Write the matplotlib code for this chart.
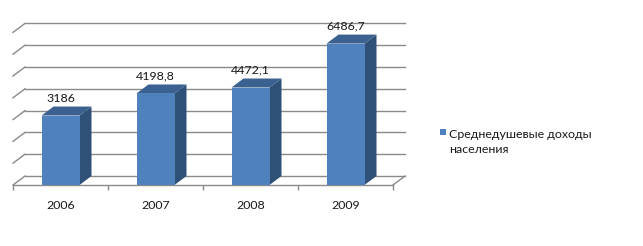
import matplotlib
matplotlib.use("Agg")
import matplotlib.pyplot as plt
from matplotlib.patches import Polygon, Rectangle
import numpy as np

plt.rcParams['font.family'] = ['Lato', 'DejaVu Sans']

categories = ['2006', '2007', '2008', '2009']
values = [3186, 4198.8, 4472.1, 6486.7]
value_labels = ['3186', '4198,8', '4472,1', '6486,7']
series_name = 'Среднедушевые доходы\nнаселения'
grid_levels = [0, 1000, 2000, 3000, 4000, 5000, 6000, 7000]

FRONT = '#4F81BD'
SIDE = '#2F5178'
TOP = '#3A6190'
GRID = '#8A8A8A'
TEXT = '#1A1A1A'

W, H = 643, 246
fig = plt.figure(figsize=(W / 100, H / 100), dpi=100)
ax = fig.add_axes([13 / W, 61 / H, 380 / W, 7 * 21.8 / H])
ax.set_xlim(-0.5, 3.5)
ax.set_ylim(0, 7000)
for s in ['top', 'right', 'left']:
    ax.spines[s].set_visible(False)
ax.spines['bottom'].set_color(GRID)
ax.spines['bottom'].set_linewidth(1.0)
ax.set_yticks([])

# depth of the 3D effect in data units (12 px right, 9 px up)
fig.canvas.draw()
inv = ax.transData.inverted()
p0 = ax.transData.transform((0, 0))
d = inv.transform(p0 + np.array([12, 9]))
dx, dy = d[0], d[1]

x = np.arange(len(categories))
width = 0.4

# back wall gridlines and left wall diagonals
for g in grid_levels:
    ax.plot([-0.5 + dx, 3.5 + dx], [g + dy, g + dy], color=GRID, lw=1.0,
            clip_on=False, zorder=1)
    ax.plot([-0.5, -0.5 + dx], [g, g + dy], color=GRID, lw=1.0,
            clip_on=False, zorder=1)
ax.plot([3.5, 3.5 + dx], [0, dy], color=GRID, lw=1.0, clip_on=False, zorder=1)

# bars
ax.bar(x, values, width=width, color=FRONT, linewidth=0, zorder=4)
for xi, v in zip(x, values):
    r = xi + width / 2
    l = xi - width / 2
    ax.add_patch(Polygon([(r, 0), (r + dx, dy), (r + dx, v + dy), (r, v)],
                         closed=True, facecolor=SIDE, edgecolor='none',
                         zorder=3, clip_on=False))
    ax.add_patch(Polygon([(l, v), (r, v), (r + dx, v + dy), (l + dx, v + dy)],
                         closed=True, facecolor=TOP, edgecolor='none',
                         zorder=3, clip_on=False))

# value labels
for xi, v, lab in zip(x, values, value_labels):
    ax.annotate(lab, xy=(xi, v), xytext=(0, 14), textcoords='offset pixels',
                ha='center', va='baseline', fontsize=8.9, color=TEXT,
                annotation_clip=False)

# ticks
ax.set_xticks(x)
ax.set_xticklabels(categories, fontsize=8.9, color=TEXT)
ax.tick_params(axis='x', which='major', length=0, pad=11)
ax.set_xticks(np.arange(-0.5, 4.0, 1.0), minor=True)
ax.tick_params(axis='x', which='minor', length=3.6, color=GRID, width=1.0)

# legend
fig.patches.append(Rectangle((440 / W, 1 - 135 / H), 6 / W, 6 / H,
                             transform=fig.transFigure, facecolor=FRONT,
                             edgecolor='none'))
fig.text(449 / W, 1 - 129 / H, series_name, ha='left', va='top',
         fontsize=8.9, color=TEXT, linespacing=1.45)

fig.savefig('out.png', dpi=100)
